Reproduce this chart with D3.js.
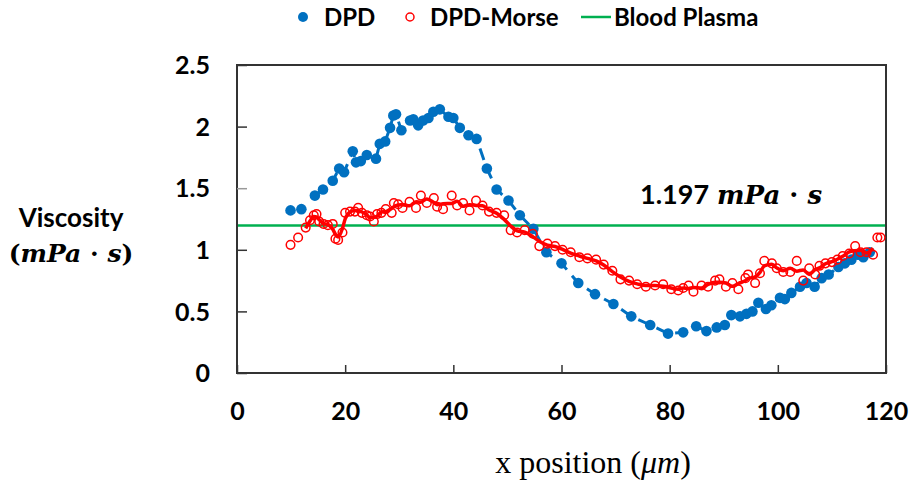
<!DOCTYPE html>
<html>
<head>
<meta charset="utf-8">
<script src="https://cdn.jsdelivr.net/npm/d3@7"></script>
<style>
  html, body { margin: 0; padding: 0; background: #fff; }
  svg { display: block; }
</style>
</head>
<body>
<svg id="chart" width="909" height="482"></svg>
<script>
// ---------- data ----------
const seriesNames = ["DPD", "DPD-Morse", "Blood Plasma"];
const xTicks = [0, 20, 40, 60, 80, 100, 120];
const yTicks = [0, 0.5, 1, 1.5, 2, 2.5];
const yTickLabels = ["0", "0.5", "1", "1.5", "2", "2.5"];
const plasmaValue = 1.197;

const dpdX = [9.9, 11.9, 14.4, 15.9, 17.7, 18.9, 19.8, 21.4, 22.0, 22.9, 24.0, 25.7, 26.4, 27.4, 28.3, 28.9, 29.4, 30.4, 32.0, 32.6, 33.5, 34.4, 35.4, 36.3, 37.5, 39.1, 40.0, 41.2, 42.8, 44.3, 46.2, 48.0, 50.2, 52.3, 54.8, 57.2, 60.0, 63.1, 66.2, 69.6, 72.9, 76.4, 79.7, 82.5, 84.9, 86.8, 88.7, 90.2, 91.4, 93.0, 94.2, 95.3, 96.4, 97.8, 98.8, 100.4, 101.3, 102.5, 104.1, 105.3, 106.8, 108.1, 109.4, 111.2, 112.4, 113.6, 114.8, 115.8, 117.0];
const dpdY = [1.32, 1.33, 1.44, 1.49, 1.56, 1.66, 1.63, 1.80, 1.71, 1.72, 1.77, 1.74, 1.86, 1.88, 1.99, 2.09, 2.10, 1.97, 2.05, 2.06, 2.01, 2.05, 2.07, 2.12, 2.14, 2.08, 2.07, 1.99, 1.93, 1.90, 1.66, 1.49, 1.40, 1.28, 1.17, 0.98, 0.89, 0.73, 0.64, 0.56, 0.46, 0.39, 0.32, 0.33, 0.38, 0.34, 0.37, 0.39, 0.47, 0.46, 0.48, 0.50, 0.57, 0.52, 0.55, 0.61, 0.60, 0.65, 0.70, 0.73, 0.70, 0.77, 0.80, 0.86, 0.89, 0.92, 0.96, 0.94, 0.98];

const morseX = [9.9, 11.3, 12.7, 13.5, 14.2, 14.7, 15.2, 16.0, 16.8, 17.7, 18.2, 18.7, 19.5, 20.0, 20.9, 21.8, 22.4, 23.1, 24.0, 24.6, 25.3, 25.9, 26.7, 27.5, 28.6, 29.0, 29.8, 30.6, 31.9, 33.1, 34.0, 35.1, 36.4, 37.0, 38.1, 39.7, 40.7, 41.8, 43.0, 44.2, 45.4, 46.6, 48.0, 49.4, 50.6, 51.8, 53.2, 54.7, 55.9, 57.4, 58.8, 60.2, 61.7, 63.3, 64.8, 66.4, 67.8, 69.4, 70.9, 72.5, 74.0, 75.6, 77.3, 78.8, 80.3, 81.6, 82.5, 83.5, 84.4, 85.9, 87.1, 88.4, 89.2, 90.4, 91.6, 92.7, 94.0, 94.5, 95.8, 96.7, 97.5, 98.9, 99.8, 101.0, 102.3, 103.5, 104.7, 105.8, 106.9, 107.7, 108.8, 110.0, 111.0, 112.0, 113.2, 114.3, 115.3, 116.4, 117.6, 118.4, 119.0];
const morseY = [1.04, 1.10, 1.18, 1.24, 1.28, 1.29, 1.23, 1.21, 1.20, 1.21, 1.09, 1.08, 1.14, 1.30, 1.31, 1.31, 1.34, 1.30, 1.28, 1.27, 1.23, 1.29, 1.30, 1.33, 1.30, 1.38, 1.37, 1.34, 1.39, 1.34, 1.44, 1.38, 1.42, 1.35, 1.33, 1.44, 1.36, 1.38, 1.32, 1.40, 1.36, 1.31, 1.30, 1.28, 1.16, 1.14, 1.16, 1.13, 1.03, 1.05, 1.03, 1.00, 0.98, 0.94, 0.93, 0.92, 0.88, 0.83, 0.76, 0.75, 0.72, 0.70, 0.71, 0.72, 0.68, 0.67, 0.69, 0.71, 0.66, 0.71, 0.70, 0.75, 0.76, 0.70, 0.73, 0.68, 0.77, 0.80, 0.73, 0.81, 0.91, 0.89, 0.85, 0.82, 0.82, 0.91, 0.75, 0.85, 0.80, 0.87, 0.89, 0.90, 0.92, 0.95, 0.97, 1.03, 0.98, 0.98, 0.96, 1.10, 1.10];

// ---------- setup ----------
const colors = { dpd: "#0070C0", morse: "#FF0000", plasma: "#00B050" };
const svg = d3.select("#chart");
const plotL = 237, plotR = 886, plotT = 65, plotB = 373;
const x = d3.scaleLinear().domain([0, 120]).range([plotL, plotR]);
const y = d3.scaleLinear().domain([0, 2.5]).range([plotB, plotT]);

const dpd = dpdX.map((v, i) => ({ x: v, y: dpdY[i] }));
const morse = morseX.map((v, i) => ({ x: v, y: morseY[i] }));

// trend for DPD-Morse: centered 3-point moving average
const morseTrend = [];
for (let i = 2; i < morse.length - 2; i++) {
  const m = (morse[i - 1].y + morse[i].y + morse[i + 1].y) / 3;
  morseTrend.push({ x: morse[i].x, y: m });
}

// ---------- frame ----------
const tickFont = "Lato, 'Open Sans', sans-serif";
const mathFont = "'DejaVu Serif', serif";

svg.append("rect")
  .attr("x", plotL).attr("y", plotT)
  .attr("width", plotR - plotL).attr("height", plotB - plotT)
  .attr("fill", "none").attr("stroke", "#333").attr("stroke-width", 2);

// y axis ticks (inside)
const yAxis = d3.axisLeft(y).tickValues(yTicks).tickSize(-10)
  .tickFormat((d, i) => yTickLabels[i]).tickPadding(27);
const gy = svg.append("g").attr("transform", `translate(${plotL},0)`).call(yAxis);
gy.select(".domain").remove();
gy.selectAll(".tick line").attr("stroke", (d) => d === 1.5 ? "#999" : "#333").attr("stroke-width", 1.5);
gy.selectAll(".tick text")
  .attr("font-family", tickFont).attr("font-weight", "bold")
  .attr("font-size", 25).attr("fill", "#000").attr("dy", "0.35em");

// x axis ticks (inside, pointing up)
const xAxis = d3.axisBottom(x).tickValues(xTicks).tickSize(-8).tickPadding(29);
const gx = svg.append("g").attr("transform", `translate(0,${plotB})`).call(xAxis);
gx.select(".domain").remove();
gx.selectAll(".tick line").attr("stroke", "#333").attr("stroke-width", 1.5);
gx.selectAll(".tick text")
  .attr("font-family", tickFont).attr("font-weight", "bold")
  .attr("font-size", 25).attr("fill", "#000");

// ---------- plasma line ----------
svg.append("line")
  .attr("x1", x(0) + 1).attr("x2", x(120) - 1)
  .attr("y1", y(plasmaValue)).attr("y2", y(plasmaValue))
  .attr("stroke", colors.plasma).attr("stroke-width", 2.5);

// ---------- DPD ----------
svg.append("path")
  .datum(dpd.slice(2))
  .attr("d", d3.line().x(d => x(d.x)).y(d => y(d.y)))
  .attr("fill", "none").attr("stroke", colors.dpd)
  .attr("stroke-width", 3).attr("stroke-dasharray", "12,8");

svg.append("g").selectAll("circle").data(dpd).join("circle")
  .attr("cx", d => x(d.x)).attr("cy", d => y(d.y)).attr("r", 5.3)
  .attr("fill", colors.dpd);

// ---------- DPD-Morse ----------
svg.append("g").selectAll("circle").data(morse).join("circle")
  .attr("cx", d => x(d.x)).attr("cy", d => y(d.y)).attr("r", 4.3)
  .attr("fill", "none").attr("stroke", colors.morse).attr("stroke-width", 1.5);

svg.append("path")
  .datum(morseTrend)
  .attr("d", d3.line().x(d => x(d.x)).y(d => y(d.y)).curve(d3.curveMonotoneX))
  .attr("fill", "none").attr("stroke", colors.morse).attr("stroke-width", 3.5);

// ---------- annotation ----------
const ann = svg.append("text").attr("x", 640).attr("y", 204)
  .attr("fill", "#000");
ann.append("tspan").attr("font-family", tickFont).attr("font-weight", "bold").attr("font-size", 27).text(String(plasmaValue));
ann.append("tspan").attr("dx", 8).attr("font-family", mathFont).attr("font-size", 26).attr("font-style", "italic").attr("font-weight", "bold").text("mPa");
ann.append("tspan").attr("font-family", mathFont).attr("font-size", 26).attr("font-weight", "bold").text(" · ");
ann.append("tspan").attr("font-family", mathFont).attr("font-size", 26).attr("font-style", "italic").attr("font-weight", "bold").text("s");

// ---------- y axis title ----------
svg.append("text").attr("x", 71).attr("y", 227).attr("text-anchor", "middle")
  .attr("font-family", tickFont).attr("font-weight", "bold").attr("font-size", 26)
  .text("Viscosity");
const yt2 = svg.append("text").attr("x", 71).attr("y", 262).attr("text-anchor", "middle")
  .attr("font-family", mathFont).attr("font-weight", "bold").attr("font-size", 25);
yt2.append("tspan").text("(");
yt2.append("tspan").attr("font-style", "italic").text("mPa");
yt2.append("tspan").text(" · ");
yt2.append("tspan").attr("font-style", "italic").text("s");
yt2.append("tspan").text(")");

// ---------- x axis title ----------
const xt = svg.append("text").attr("x", 593).attr("y", 473).attr("text-anchor", "middle")
  .attr("font-family", "'Liberation Serif', serif").attr("font-size", 32);
xt.append("tspan").text("x position (");
xt.append("tspan").attr("font-style", "italic").text("μm");
xt.append("tspan").text(")");

// ---------- legend ----------
const lg = svg.append("g").attr("font-family", tickFont).attr("font-weight", "bold").attr("font-size", 24);
lg.append("circle").attr("cx", 303).attr("cy", 17).attr("r", 5).attr("fill", colors.dpd);
lg.append("text").attr("x", 324).attr("y", 26).text(seriesNames[0]);
lg.append("circle").attr("cx", 410).attr("cy", 17).attr("r", 4).attr("fill", "none")
  .attr("stroke", colors.morse).attr("stroke-width", 1.5);
lg.append("text").attr("x", 430).attr("y", 26).text(seriesNames[1]);
lg.append("line").attr("x1", 581).attr("x2", 611).attr("y1", 17).attr("y2", 17)
  .attr("stroke", colors.plasma).attr("stroke-width", 2.5);
lg.append("text").attr("x", 614).attr("y", 26).text(seriesNames[2]);
</script>
</body>
</html>
